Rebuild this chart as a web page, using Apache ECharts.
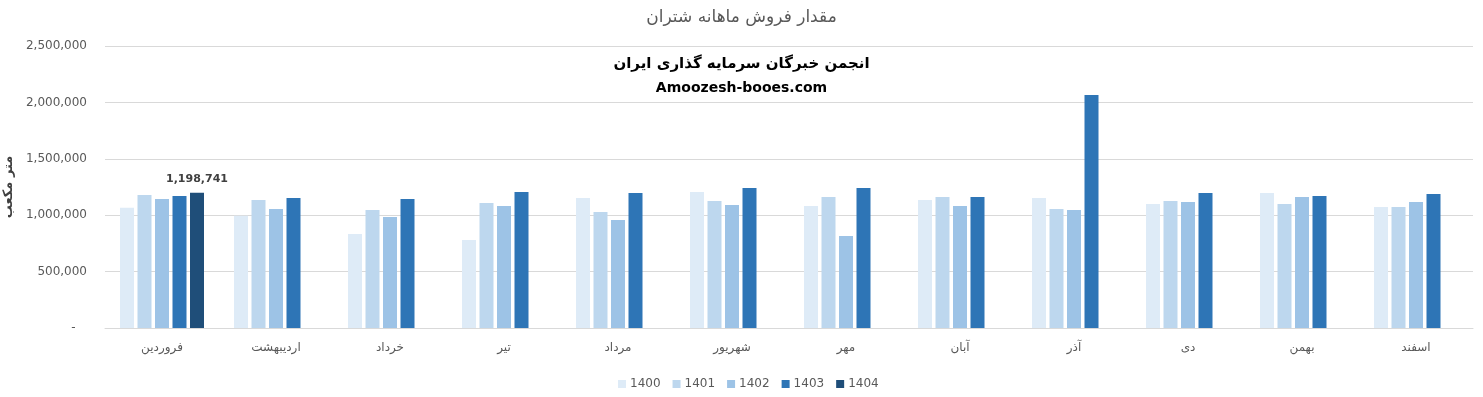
<!DOCTYPE html>
<html>
<head>
<meta charset="utf-8">
<script src="https://cdn.jsdelivr.net/npm/echarts@6/dist/echarts.min.js"></script>
<style>
  html, body { margin: 0; padding: 0; background: #fff; }
  #chart { width: 1483px; height: 397px; }
</style>
</head>
<body>
<div id="chart"></div>
<script>
const months = ['فروردین', 'اردیبهشت', 'خرداد', 'تیر', 'مرداد', 'شهریور', 'مهر', 'آبان', 'آذر', 'دی', 'بهمن', 'اسفند'];
const years = ['1400', '1401', '1402', '1403', '1404'];

const sales1400 = [1065000, 995000, 833000, 780000, 1152000, 1205000, 1081000, 1134000, 1152000, 1099000, 1197000, 1073000];
const sales1401 = [1179000, 1135000, 1046000, 1108000, 1028000, 1126000, 1161000, 1161000, 1055000, 1126000, 1099000, 1073000];
const sales1402 = [1144000, 1055000, 984000, 1081000, 957000, 1090000, 816000, 1081000, 1046000, 1117000, 1161000, 1117000];
const sales1403 = [1170000, 1152000, 1144000, 1205000, 1197000, 1241000, 1241000, 1161000, 2065000, 1197000, 1170000, 1188000];
const sales1404 = [1198741, null, null, null, null, null, null, null, null, null, null, null];

const yTicks = [0, 500000, 1000000, 1500000, 2000000, 2500000];

const colors = ['#deebf7', '#bdd7ee', '#9dc3e6', '#2e75b6', '#1f4e79'];
const font = 'DejaVu Sans';

function fmt(v) {
  return v === 0 ? '-   ' : v.toLocaleString('en-US');
}

const chart = echarts.init(document.getElementById('chart'));

const allSeries = [sales1400, sales1401, sales1402, sales1403, sales1404].map(function (d, i) {
  return {
    name: years[i],
    type: 'bar',
    data: d,
    barWidth: 14,
    barGap: '25%',
    itemStyle: { color: colors[i] },
    label: {
      show: i === 4,
      position: 'top',
      distance: 8,
      fontFamily: font,
      fontWeight: 'bold',
      fontSize: 11,
      color: '#404040',
      formatter: function (p) { return p.value == null ? '' : fmt(p.value); }
    }
  };
});

const option = {
  animation: false,
  backgroundColor: '#fff',
  textStyle: { fontFamily: font },
  color: colors,
  title: {
    text: 'مقدار فروش ماهانه شتران',
    left: 'center',
    top: 4,
    textStyle: { fontFamily: font, fontSize: 17, fontWeight: 'normal', color: '#595959' }
  },
  graphic: [
    {
      type: 'text', left: 'center', top: 57,
      style: { text: 'انجمن خبرگان سرمایه گذاری ایران', fontFamily: font, fontSize: 15, fontWeight: 'bold', fill: '#000' }
    },
    {
      type: 'text', left: 'center', top: 81,
      style: { text: 'Amoozesh-booes.com', fontFamily: font, fontSize: 14, fontWeight: 'bold', fill: '#000' }
    }
  ],
  legend: {
    data: years,
    bottom: 2,
    left: 613,
    icon: 'rect',
    itemWidth: 8,
    itemHeight: 8,
    itemGap: 12,
    textStyle: { fontFamily: font, fontSize: 12, color: '#595959', padding: [0, 0, 0, -1] }
  },
  grid: { left: 105, right: 10, top: 46, bottom: 69, outerBoundsMode: 'none' },
  xAxis: {
    type: 'category',
    data: months,
    axisTick: { show: false },
    axisLine: { lineStyle: { color: '#d9d9d9' } },
    axisLabel: { color: '#595959', fontSize: 12, margin: 14, fontFamily: font }
  },
  yAxis: {
    type: 'value',
    min: yTicks[0],
    max: yTicks[yTicks.length - 1],
    interval: yTicks[1] - yTicks[0],
    name: 'متر مکعب',
    nameLocation: 'middle',
    nameGap: 87,
    nameTextStyle: { fontFamily: font, fontSize: 13, fontWeight: 'bold', color: '#404040' },
    axisLabel: { color: '#595959', fontSize: 12, margin: 18, formatter: fmt },
    splitLine: { lineStyle: { color: '#d9d9d9' } }
  },
  series: allSeries
};

chart.setOption(option);
</script>
</body>
</html>
